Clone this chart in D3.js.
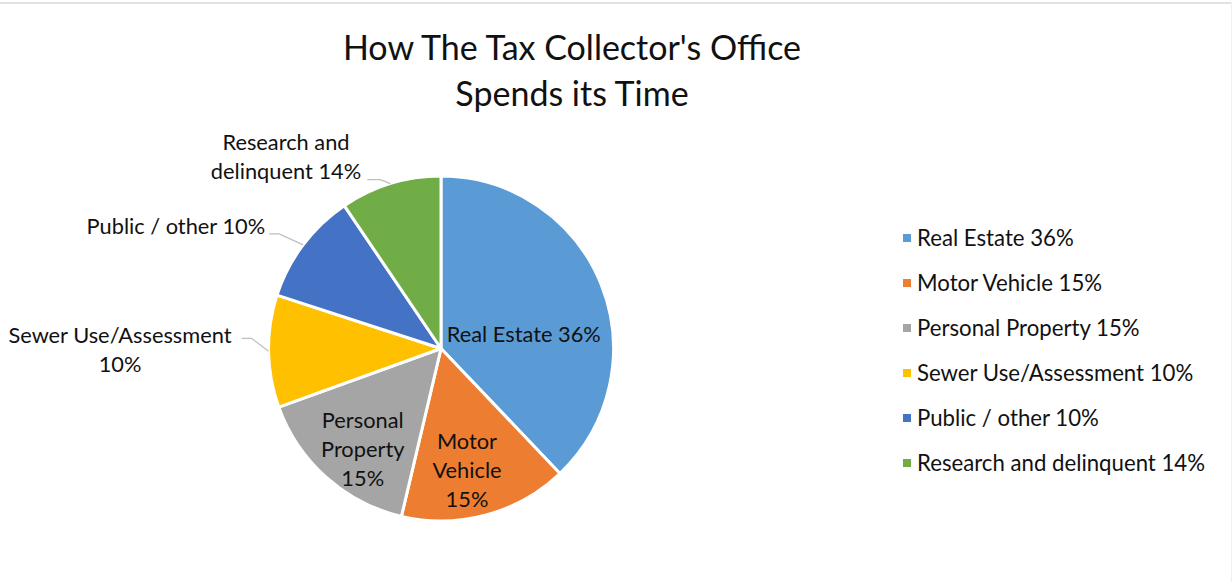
<!DOCTYPE html>
<html>
<head>
<meta charset="utf-8">
<script src="https://cdn.jsdelivr.net/npm/d3@7"></script>
<style>
  html, body { margin: 0; padding: 0; background: #fff; }
  svg { display: block; font-family: Lato, "Open Sans", sans-serif; }
</style>
</head>
<body>
<svg id="chart" width="1232" height="582"></svg>
<script>
// ---- data ----
const titleLines = ["How The Tax Collector's Office", "Spends its Time"];
const categories = ["Real Estate 36%", "Motor Vehicle 15%", "Personal Property 15%", "Sewer Use/Assessment 10%", "Public / other 10%", "Research and delinquent 14%"];
const values = [36, 15, 15, 10, 10, 9];
const colors = ["#5B9BD5", "#ED7D31", "#A5A5A5", "#FFC000", "#4472C4", "#70AD47"];
const sliceLabels = [
  ["Real Estate 36%"],
  ["Motor", "Vehicle", "15%"],
  ["Personal", "Property", "15%"],
  ["Sewer Use/Assessment", "10%"],
  ["Public / other 10%"],
  ["Research and", "delinquent 14%"]
];

// ---- layout (styles / positions) ----
const W = 1232, H = 582;
const cx = 441, cy = 348.5, R = 172.5;
const fontSize = 21.8, legendFontSize = 22.2, lineH = 29;
const labelLayout = [
  {inside: true, ang: 80.4, r: 84},
  {inside: true, ang: 168, r: 125},
  {inside: true, ang: 217.7, r: 128},
  {inside: false, elbowDx: -17, elbowDy: -13, lineLen: 10, textGap: 9, textCx: 120, anchorLine: 0, textDy: -3},
  {inside: false, elbowDx: -24, elbowDy: -11, lineLen: 10, textGap: 4, textCx: null, anchorLine: 0, textDy: -7},
  {inside: false, elbowDx: -10, elbowDy: -4, lineLen: 13, textGap: 5, textCx: 286, anchorLine: 1, textDy: -8}
];

const svg = d3.select("#chart");
svg.append("rect").attr("x", 0).attr("y", 0).attr("width", W).attr("height", H).attr("fill", "#fff");
svg.append("rect").attr("x", 0).attr("y", 2).attr("width", W).attr("height", 2).attr("fill", "#e2e2e2");
svg.append("rect").attr("x", W - 1).attr("y", 2).attr("width", 1).attr("height", H - 2).attr("fill", "#f0f0f0");

// title
const title = svg.append("text").attr("text-anchor", "middle").attr("fill", "#111")
  .style("font-size", "34px");
titleLines.forEach((t, i) => {
  title.append("tspan").attr("x", 572).attr("y", 60 + i * 46).text(t);
});

// pie
const pie = d3.pie().sort(null).value(d => d)(values);
const arc = d3.arc().innerRadius(0).outerRadius(R);
const g = svg.append("g").attr("transform", `translate(${cx},${cy})`);
g.selectAll("path.slice").data(pie).join("path")
  .attr("class", "slice")
  .attr("d", arc)
  .attr("fill", (d, i) => colors[i])
  .attr("stroke", "#fff")
  .attr("stroke-width", 3)
  .attr("stroke-linejoin", "round");

// labels
pie.forEach((d, i) => {
  const L = labelLayout[i];
  const lines = sliceLabels[i];
  if (L.inside) {
    const a = L.ang * Math.PI / 180;
    const x = L.r * Math.sin(a), y = -L.r * Math.cos(a);
    const t = g.append("text").attr("text-anchor", "middle").attr("fill", "#111")
      .style("font-size", fontSize + "px");
    lines.forEach((ln, k) => {
      t.append("tspan").attr("x", x)
        .attr("y", y + (k - (lines.length - 1) / 2) * lineH)
        .attr("dy", "0.35em").text(ln);
    });
  } else {
    const mid = (d.startAngle + d.endAngle) / 2;
    const px = R * Math.sin(mid), py = -R * Math.cos(mid);
    const ex = px + L.elbowDx;
    const ey = py + L.elbowDy;
    const hx = ex - L.lineLen;
    g.append("polyline")
      .attr("points", [[px, py], [ex, ey], [hx, ey]].map(p => p.join(",")).join(" "))
      .attr("fill", "none").attr("stroke", "#bfbfbf").attr("stroke-width", 1.3);
    const t = g.append("text").attr("fill", "#111").style("font-size", fontSize + "px");
    const spans = lines.map(ln => t.append("tspan").text(ln));
    const widths = spans.map(s => s.node().getComputedTextLength());
    const aw = widths[L.anchorLine];
    const centerX = L.textCx !== null ? L.textCx - cx : hx - L.textGap - aw / 2;
    const baseY = ey + L.textDy - L.anchorLine * lineH;
    spans.forEach((s, k) => {
      s.attr("text-anchor", "middle").attr("x", centerX)
        .attr("y", baseY + k * lineH).attr("dy", "0.35em");
    });
  }
});

// legend
const legend = svg.append("g").attr("transform", "translate(903,238)");
categories.forEach((c, i) => {
  const row = legend.append("g").attr("transform", `translate(0,${i * 45})`);
  row.append("rect").attr("x", 0).attr("y", -4).attr("width", 8).attr("height", 8).attr("fill", colors[i]);
  row.append("text").attr("x", 14).attr("y", 0).attr("dy", "0.35em")
    .attr("fill", "#111").style("font-size", legendFontSize + "px").text(c);
});
</script>
</body>
</html>
